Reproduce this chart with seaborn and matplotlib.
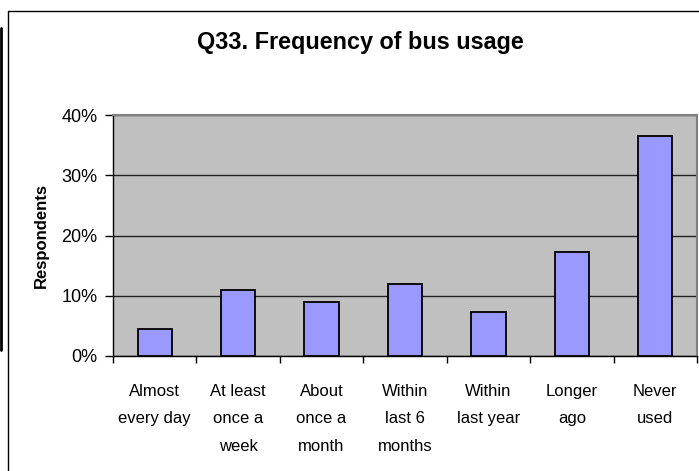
import matplotlib
matplotlib.use("Agg")
import matplotlib.pyplot as plt
from matplotlib.lines import Line2D
from matplotlib.ticker import FixedLocator, PercentFormatter
import seaborn as sns
import pandas as pd

# values
categories = ["Almost\nevery day", "At least\nonce a\nweek", "About\nonce a\nmonth",
              "Within\nlast 6\nmonths", "Within\nlast year", "Longer\nago", "Never\nused"]
respondents = [4.5, 11.0, 9.0, 11.9, 7.3, 17.2, 36.5]
y_ticks = [0, 10, 20, 30, 40]

df = pd.DataFrame({"category": categories, "pct": respondents})

sns.set_style("white")
plt.rcParams["font.family"] = ["Liberation Sans", "DejaVu Sans"]
plt.rcParams["text.color"] = "black"
plt.rcParams["axes.labelcolor"] = "black"
plt.rcParams["xtick.color"] = "black"
plt.rcParams["ytick.color"] = "black"

W, H = 699, 471
fig = plt.figure(figsize=(W / 100, H / 100), dpi=100)
ax = fig.add_axes([113 / W, (H - 356) / H, 584 / W, 241 / H])
ax.set_facecolor("#C0C0C0")

sns.barplot(data=df, x="category", y="pct", color="#9999FF", saturation=1,
            edgecolor="black", linewidth=1.3, width=0.41, ax=ax, zorder=3)

ax.set_ylim(0, 40)
ax.set_xlim(-0.5, len(categories) - 0.5)
ax.yaxis.set_major_locator(FixedLocator(y_ticks))
ax.yaxis.set_major_formatter(PercentFormatter(decimals=0))
ax.grid(axis="y", color="#222222", linewidth=1, zorder=1)
ax.set_axisbelow(True)

# category ticks sit between the bars, like Excel
ax.xaxis.set_minor_locator(FixedLocator([i - 0.5 for i in range(len(categories) + 1)]))
ax.tick_params(axis="x", which="major", length=0, pad=20, labelsize=12, labelcolor="black")
ax.tick_params(axis="x", which="minor", length=5, width=1, color="black", direction="out", bottom=True)
ax.tick_params(axis="y", length=6, width=1, color="black", direction="out", left=True, pad=5,
               labelsize=13, labelcolor="black")
for lab in ax.get_xticklabels():
    lab.set_linespacing(2.05)
    lab.set_verticalalignment("top")

ax.set_xlabel("")
ax.set_ylabel("Respondents", fontsize=12, fontweight="bold", color="black")
ax.yaxis.set_label_coords(-0.11, 0.5)

for side in ["left", "bottom"]:
    ax.spines[side].set_color("black")
    ax.spines[side].set_linewidth(1)
for side in ["top", "right"]:
    ax.spines[side].set_color("#808080")
    ax.spines[side].set_linewidth(1.5)

fig.text(360 / W, 1 - 42 / H, "Q33. Frequency of bus usage", ha="center", va="center",
         fontsize=16.8, fontweight="bold", color="black")

# chart border (left and top edges) and the dark stripe on the far left
fig.add_artist(Line2D([8 / W, 8 / W], [0, 1 - 11 / H], transform=fig.transFigure, color="black", lw=1))
fig.add_artist(Line2D([8 / W, 1], [1 - 11 / H, 1 - 11 / H], transform=fig.transFigure, color="black", lw=1))
fig.add_artist(Line2D([1 / W, 1 / W], [1 - 28 / H, 1 - 350 / H], transform=fig.transFigure, color="black", lw=2))

fig.savefig("out.png", dpi=100)
